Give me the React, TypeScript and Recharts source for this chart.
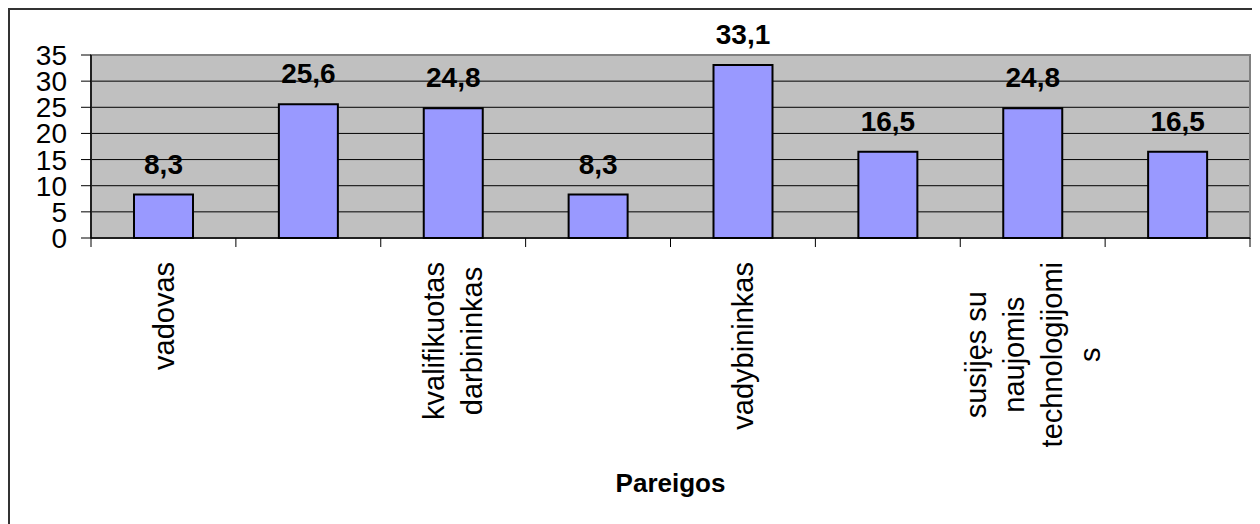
import React from "react";
import {
  BarChart,
  Bar,
  XAxis,
  YAxis,
  CartesianGrid,
  LabelList,
  ReferenceArea,
} from "recharts";

// categories (only every other label is visible in the original)
const categories = [
  "vadovas",
  "",
  "kvalifikuotas darbininkas",
  "",
  "vadybininkas",
  "",
  "susijęs su naujomis technologijomis",
  "",
];
const values = [8.3, 25.6, 24.8, 8.3, 33.1, 16.5, 24.8, 16.5];
const yTicks = [0, 5, 10, 15, 20, 25, 30, 35];
const gridValues = [5, 10, 15, 20, 25, 30];

const data = categories.map((name, i) => ({ name, value: values[i] }));

const W = 1250;
const H = 514;
const Y_W = 81;
const M_TOP = 45;
const M_RIGHT = 10;
const PLOT_BOTTOM = 228;
const BAND = (W - Y_W - M_RIGHT) / categories.length;
const FONT = '"Liberation Sans", Arial, sans-serif';
const LABEL_SIZE = 29;
const LINE_STEP = 38;
const MAX_CHARS = 14;

let ctx: CanvasRenderingContext2D | null = null;
const measure = (s: string) => {
  if (!ctx) ctx = document.createElement("canvas").getContext("2d");
  if (!ctx) return s.length * LABEL_SIZE * 0.5;
  ctx.font = `${LABEL_SIZE}px "Liberation Sans"`;
  return ctx.measureText(s).width;
};

// greedy wrap, long words are cut like Excel does
const wrap = (text: string) => {
  const out: string[] = [];
  let cur = "";
  text.split(" ").filter(Boolean).forEach((w) => {
    const next = cur ? cur + " " + w : w;
    if (next.length <= MAX_CHARS) {
      cur = next;
      return;
    }
    if (cur) out.push(cur);
    cur = w;
    while (cur.length > MAX_CHARS) {
      out.push(cur.slice(0, MAX_CHARS));
      cur = cur.slice(MAX_CHARS);
    }
  });
  if (cur) out.push(cur);
  return out;
};

const CategoryTick = (props: any) => {
  const { x, y, payload, index } = props;
  const lines = wrap(String(payload.value ?? ""));
  const longest = lines.length ? Math.max(...lines.map(measure)) : 0;
  const isLast = index === categories.length - 1;
  return (
    <g>
      <line x1={x - BAND / 2} x2={x - BAND / 2} y1={y} y2={y + 9} stroke="#000" />
      {isLast && (
        <line x1={x + BAND / 2} x2={x + BAND / 2} y1={y} y2={y + 9} stroke="#000" />
      )}
      {lines.map((l, i) => (
        <text
          key={i}
          transform={`translate(${x + (i - (lines.length - 1) / 2) * LINE_STEP},${y + 24}) rotate(-90)`}
          x={-longest / 2}
          y={0}
          dy="0.35em"
          textAnchor="middle"
          fontSize={LABEL_SIZE}
          fontFamily={FONT}
          fill="#000"
        >
          {l}
        </text>
      ))}
    </g>
  );
};

const App = () => {
  return (
    <div
      style={{
        width: W,
        height: H,
        borderTop: "2px solid #333",
        borderLeft: "2px solid #333",
        background: "#fff",
      }}
    >
      <BarChart
        width={W}
        height={H}
        data={data}
        margin={{ top: M_TOP, right: M_RIGHT, left: 0, bottom: 0 }}
        style={{ fontFamily: FONT }}
      >
        <CartesianGrid
          vertical={false}
          fill="#C0C0C0"
          fillOpacity={1}
          stroke="#000"
          horizontalValues={gridValues}
        />
        <ReferenceArea y1={0} y2={35} fill="none" stroke="#808080" strokeWidth={2} />
        <XAxis
          dataKey="name"
          interval={0}
          height={H - PLOT_BOTTOM}
          tickLine={false}
          tickSize={0}
          tickMargin={0}
          axisLine={{ stroke: "#000", strokeWidth: 1.5 }}
          tick={<CategoryTick />}
          label={{
            value: "Pareigos",
            position: "insideBottom",
            offset: 32,
            style: { fontSize: 26, fontWeight: "bold", fill: "#000", fontFamily: FONT },
          }}
        />
        <YAxis
          width={Y_W}
          domain={[0, 35]}
          ticks={yTicks}
          interval={0}
          tickSize={10}
          tickMargin={14}
          tickLine={{ stroke: "#000" }}
          axisLine={{ stroke: "#000", strokeWidth: 1.5 }}
          tick={{ fontSize: 28, fill: "#000", fontFamily: FONT }}
        />
        <Bar
          dataKey="value"
          fill="#9999FF"
          stroke="#000"
          strokeWidth={2}
          barSize={59}
          isAnimationActive={false}
        >
          <LabelList
            dataKey="value"
            position="top"
            offset={21}
            formatter={(v: any) => String(v).replace(".", ",")}
            style={{ fontSize: 28, fontWeight: "bold", fill: "#000", fontFamily: FONT }}
          />
        </Bar>
      </BarChart>
    </div>
  );
};

export default App;
